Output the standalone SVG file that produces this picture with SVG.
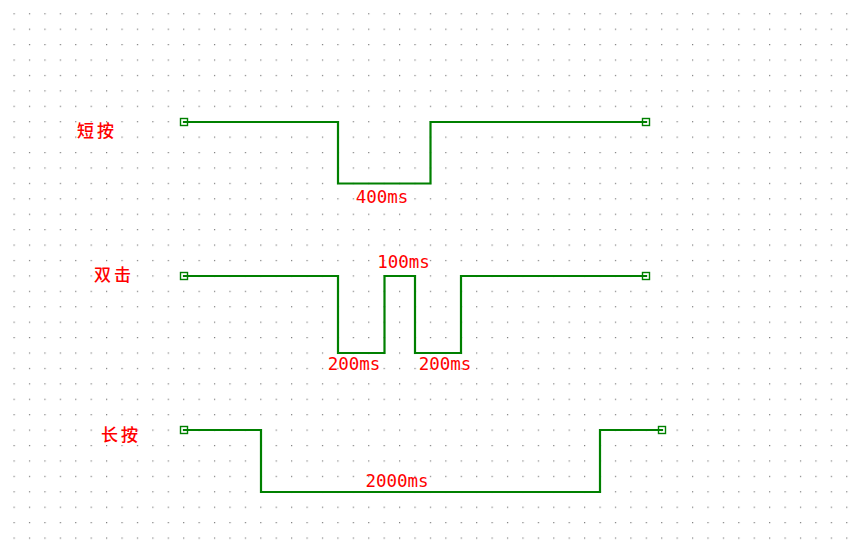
<svg xmlns="http://www.w3.org/2000/svg" width="849" height="546" viewBox="0 0 849 546">
  <style>
    .wave { fill: none; stroke: #008000; stroke-width: 2.2; stroke-linejoin: miter; stroke-linecap: square; }
    .term { fill: none; stroke: #008000; stroke-width: 1.4; }
    .lbl { font-family: "Noto Sans CJK SC", "Noto Sans CJK TC", sans-serif; font-size: 17px; font-weight: 500; fill: #ff0000; letter-spacing: 3px; }
    .ms { font-family: "DejaVu Sans Mono", "Liberation Mono", monospace; font-size: 17.5px; fill: #ff0000; text-anchor: middle; }
  </style>
  <defs>
    <pattern id="grid" patternUnits="userSpaceOnUse" x="13.5" y="13.2" width="15.42" height="15.42">
      <rect x="0" y="0" width="1.2" height="1.2" fill="#7a7a7a"/>
    </pattern>
  </defs>
  <rect x="0" y="0" width="849" height="546" fill="#ffffff"/>
  <rect x="0" y="0" width="849" height="546" fill="url(#grid)"/>

  <g id="connectors">
    <polyline id="wave-short" class="wave" points="184,122 338,122 338,183.5 430.5,183.5 430.5,122 646,122"/>
    <polyline id="wave-double" class="wave" points="184,276 338,276 338,353 384.5,353 384.5,276 415,276 415,353 461,353 461,276 646,276"/>
    <polyline id="wave-long" class="wave" points="184,430 261,430 261,492 600,492 600,430 662,430"/>
  </g>

  <g id="node-short">
    <text class="lbl" x="77" y="137">短按</text>
    <rect class="term" x="180.5" y="118.5" width="7" height="7"/>
    <rect class="term" x="642.5" y="118.5" width="7" height="7"/>
    <text class="ms" x="382" y="203">400ms</text>
  </g>

  <g id="node-double">
    <text class="lbl" x="94" y="281">双击</text>
    <rect class="term" x="180.5" y="272.5" width="7" height="7"/>
    <rect class="term" x="642.5" y="272.5" width="7" height="7"/>
    <text class="ms" x="403.5" y="267.5">100ms</text>
    <text class="ms" x="354" y="369.5">200ms</text>
    <text class="ms" x="445" y="369.5">200ms</text>
  </g>

  <g id="node-long">
    <text class="lbl" x="101" y="441">长按</text>
    <rect class="term" x="180.5" y="426.5" width="7" height="7"/>
    <rect class="term" x="658.5" y="426.5" width="7" height="7"/>
    <text class="ms" x="397" y="487">2000ms</text>
  </g>
</svg>
